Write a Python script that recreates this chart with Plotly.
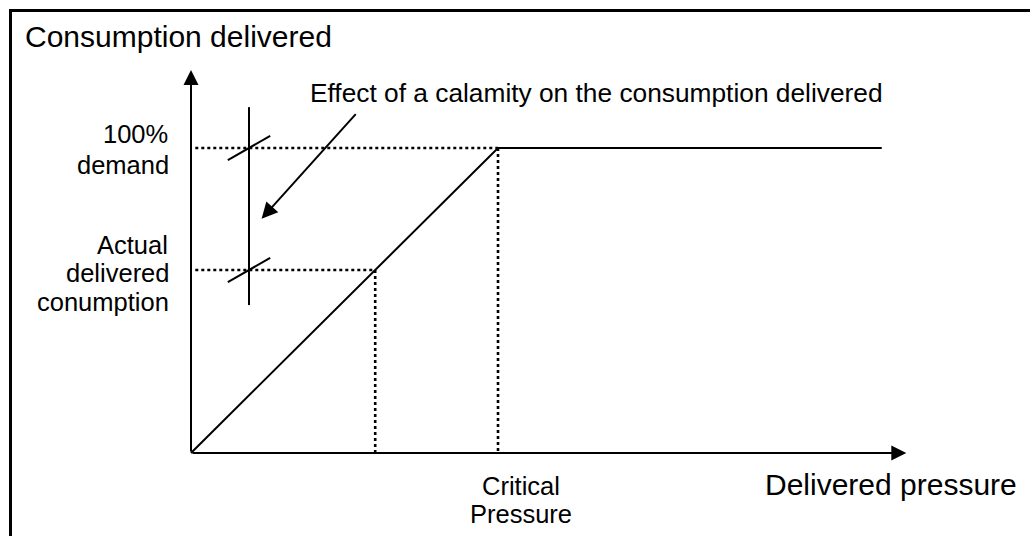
import plotly.graph_objects as go

# ---- data (diagram values, in pressure units / % of demand) ----
curve_pressure = [0.0, 1.0, 2.25]          # consumption curve
curve_consumption = [0.0, 100.0, 100.0]
critical_pressure = 1.0
actual_pressure = 0.6
demand_level = 100.0
actual_level = 60.0
x_axis_end = 2.33
y_axis_end = 125.6
calamity_x = 0.189
calamity_y = [48.5, 113.4]
calamity_tick_dx = 0.069
calamity_tick_dy = 4.0
arrow_tail = [0.541, 111.6]
arrow_tip = [0.23, 76.8]
dotted_start = 0.014

W, H = 1030, 536
FONT = "Liberation Sans, Arial, sans-serif"

def px(x):
    return x / W

def py(y):
    return 1 - y / H

fig = go.Figure()

line_style = dict(color="black", width=2)
dot_style = dict(color="black", width=2.6, dash="3px,3px")

# main curve
fig.add_trace(go.Scatter(x=curve_pressure, y=curve_consumption, mode="lines", line=line_style))

# dotted guides
for p, lvl in [(critical_pressure, demand_level), (actual_pressure, actual_level)]:
    fig.add_trace(go.Scatter(x=[dotted_start, p], y=[lvl, lvl], mode="lines", line=dot_style))
    fig.add_trace(go.Scatter(x=[p, p], y=[lvl, 0], mode="lines", line=dot_style))

# calamity vertical bar
fig.add_trace(go.Scatter(x=[calamity_x, calamity_x], y=calamity_y, mode="lines", line=line_style))
# slanted ticks at both levels
for lvl in [demand_level, actual_level]:
    fig.add_trace(go.Scatter(
        x=[calamity_x - calamity_tick_dx, calamity_x + calamity_tick_dx],
        y=[lvl - calamity_tick_dy, lvl + calamity_tick_dy],
        mode="lines", line=line_style))

annotations = []
# axes with arrowheads
annotations.append(dict(x=x_axis_end, y=0, ax=0, ay=0, xref="x", yref="y", axref="x", ayref="y",
                        showarrow=True, arrowhead=2, arrowwidth=2, arrowsize=1.5, arrowcolor="black", text=""))
annotations.append(dict(x=0, y=y_axis_end, ax=0, ay=0, xref="x", yref="y", axref="x", ayref="y",
                        showarrow=True, arrowhead=2, arrowwidth=2, arrowsize=1.5, arrowcolor="black", text=""))
# calamity arrow
annotations.append(dict(x=arrow_tip[0], y=arrow_tip[1], ax=arrow_tail[0], ay=arrow_tail[1],
                        xref="x", yref="y", axref="x", ayref="y",
                        showarrow=True, arrowhead=2, arrowwidth=2, arrowsize=1.6, arrowcolor="black", text=""))

def label(text, x, y, size, anchor):
    annotations.append(dict(text=text, x=px(x), y=py(y), xref="paper", yref="paper",
                            xanchor=anchor, yanchor="middle", showarrow=False,
                            borderpad=0, borderwidth=0,
                            font=dict(family=FONT, size=size, color="black")))

label("Consumption delivered", 24.5, 36.3, 30, "left")
label("Effect of a calamity on the consumption delivered", 310, 92.7, 26.3, "left")
label("100%", 168, 134.2, 25.5, "right")
label("demand", 168.5, 165.5, 25.5, "right")
label("Actual", 168, 245.0, 25.5, "right")
label("delivered", 168.5, 273.0, 25.5, "right")
label("conumption", 168.5, 301.5, 25.5, "right")
label("Critical", 520.5, 486.1, 25.5, "center")
label("Pressure", 520.5, 514.1, 25.5, "center")
label("Delivered pressure", 764.5, 484.6, 30, "left")

# outer frame (only top and left edges fall inside the picture)
shapes = [dict(type="rect", xref="paper", yref="paper",
               x0=px(10.5), y0=py(10.5), x1=1.05, y1=-0.05,
               line=dict(color="black", width=3))]

# pixel mapping: x=0 -> 191px, 1 unit = 307px ; y=0 -> 453px, 1% = 3.05px
x_range = [-191 / 307, (W - 191) / 307]
y_range = [-(H - 453) / 3.05, 453 / 3.05]

fig.update_layout(
    width=W, height=H,
    margin=dict(l=0, r=0, t=0, b=0),
    paper_bgcolor="white", plot_bgcolor="white",
    showlegend=False,
    xaxis=dict(visible=False, range=x_range, fixedrange=True),
    yaxis=dict(visible=False, range=y_range, fixedrange=True),
    annotations=annotations,
    shapes=shapes,
)

fig.write_html(
    "out.html",
    config={"displayModeBar": False},
    post_script="document.body.style.margin='0';document.body.style.overflow='hidden';",
)
